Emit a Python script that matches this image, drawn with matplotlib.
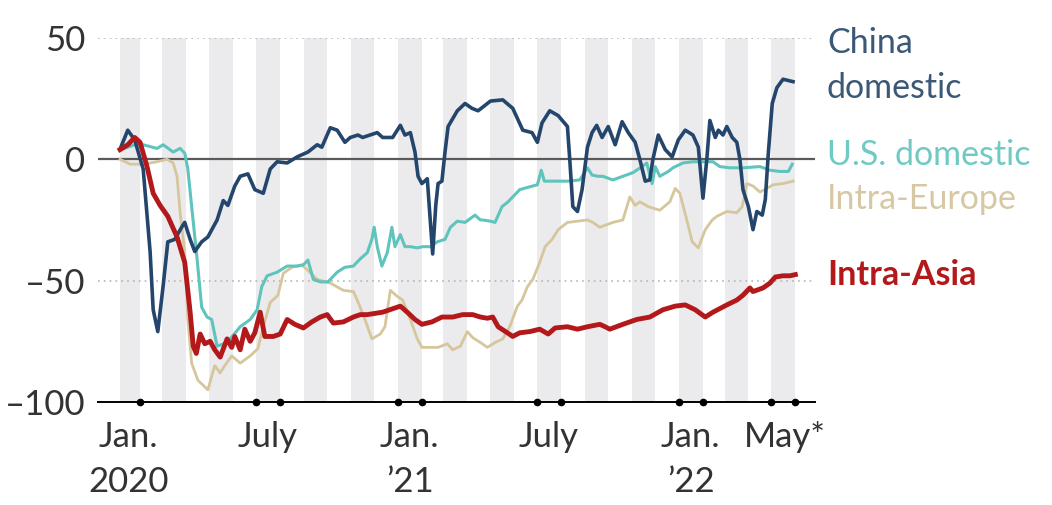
import numpy as np
import pandas as pd
import matplotlib
matplotlib.use('Agg')
import matplotlib.pyplot as plt
import matplotlib.transforms as mtransforms

plt.rcParams['font.family'] = ['Lato', 'DejaVu Sans']

START = pd.Timestamp('2020-01-01')

# seat capacity, % change vs 2019 -- x in days since 2020-01-01
china_days = [6, 15, 24, 35, 44, 48, 54, 61, 67, 76, 85, 89, 96, 102, 111, 119, 131, 139, 145, 154,
              161, 171, 180, 191, 200, 209, 222, 235, 249, 261, 267, 278, 287, 297, 304, 314, 320, 339, 346, 359,
              369, 375, 382, 388, 392, 397, 404, 406, 411, 415, 418, 423, 427, 431, 443, 453, 462, 470, 486, 502,
              515, 528, 540, 547, 553, 563, 574, 586, 589, 593, 599, 605, 612, 618, 624, 631, 639, 648, 657, 665,
              674, 680, 687, 693, 697, 704, 713, 722, 730, 739, 749, 756, 762, 767, 771, 778, 782, 788, 793, 800,
              806, 810, 814, 821, 827, 832, 839, 843, 847, 852, 858, 866, 879]
china_vals = [5, 12, 8, -4, -38, -62, -71, -52, -34, -33, -28, -26, -33, -38, -34, -32, -25, -17, -19, -11,
              -7, -6, -12.5, -14, -4, -1, -1.5, 1, 3, 6, 5, 13, 12, 7, 9, 10, 9, 11, 9, 9,
              14, 10, 11, 3, -7, -10, -8, -17, -39, -19, -10, -9, 3, 13.5, 20, 23, 21, 20, 24, 24.5,
              21, 12, 11, 7, 15, 20, 18, 13.5, 0, -19.5, -21.5, -12.5, 5, 11, 14, 9, 13.5, 6, 15.5, 11,
              7, 0, -9, -8.5, 0, 10, 4, 1, 8, 12, 10, 5, -16, 0, 16, 9, 12, 10, 13.5, 9,
              7, 0, -12.5, -19.5, -29, -21.5, -23, -16.5, 3, 23, 29.5, 33, 32]

us_days = [6, 24, 35, 53, 61, 74, 83, 89, 93, 98, 105, 111, 118, 124, 131, 140, 148, 161, 174, 183,
           189, 196, 209, 222, 235, 243, 249, 256, 265, 275, 287, 297, 308, 317, 326, 332, 335, 339, 345, 352,
           358, 362, 369, 375, 382, 391, 398, 408, 417, 427, 434, 443, 453, 466, 473, 476, 486, 492, 501, 509,
           515, 524, 535, 547, 552, 556, 567, 586, 602, 612, 618, 626, 632, 645, 658, 671, 683, 689, 696, 700,
           706, 717, 723, 736, 749, 762, 775, 784, 797, 814, 836, 849, 862, 873, 878]
us_vals = [4, 6, 6, 4.5, 6, 3, 4.5, 2.5, -4, -19.5, -41, -61, -65, -66, -77, -76, -74, -69, -66, -62,
           -52.5, -48, -46.5, -44, -44, -43.5, -41.5, -49.5, -50.5, -50.5, -46.5, -44.5, -44, -41, -38.5, -33, -28, -36, -44, -38.5,
           -28, -36, -31, -36, -36, -36.5, -36, -36, -34, -33, -28, -25.5, -26, -23, -25, -25, -25.5, -26, -19.5, -17.5,
           -15.5, -12.5, -11.5, -10.5, -4.5, -9, -9, -9, -8.5, -3.5, -6.5, -7, -7, -8.5, -7, -5.5, -3, -1.5, -10, -3,
           -7, -5, -3.5, -1.5, -1, -1, -1, -3, -3.5, -3.5, -3, -4.5, -5, -5, -2]

europe_days = [5, 18, 35, 53, 66, 74, 79, 83, 89, 93, 98, 106, 119, 128, 135, 141, 150, 161, 174, 184,
               191, 200, 210, 217, 228, 241, 248, 261, 278, 295, 308, 313, 323, 332, 343, 349, 356, 365, 372, 382,
               391, 397, 408, 418, 430, 437, 447, 456, 463, 473, 482, 492, 502, 511, 521, 527, 534, 541, 550, 557,
               566, 574, 586, 599, 612, 619, 628, 645, 658, 667, 674, 680, 691, 706, 719, 726, 732, 741, 748, 756,
               765, 774, 780, 793, 806, 813, 819, 827, 836, 845, 853, 866, 879]
europe_vals = [0, -2, -2, -1, 0, -1.5, -7, -22, -38.5, -66, -84, -91, -95, -85, -88, -85, -81, -84, -81, -78,
               -69, -59, -56, -47, -44.5, -43.5, -45.5, -49.5, -51, -54, -54.5, -58, -66, -74, -72, -69, -54, -56.5, -58, -66,
               -74, -77.5, -77.5, -77.5, -76, -78.5, -77, -71, -73.5, -75.5, -77.5, -75.5, -74, -69, -60.5, -58, -52.5, -49.5, -42.5, -36,
               -33, -29, -26, -25.5, -25, -26, -28, -26, -25, -15.5, -19, -17.5, -19.5, -21, -17.5, -12, -14, -25, -34, -36.5,
               -29, -25, -23.5, -21.5, -22, -19.5, -10, -11, -13.5, -12, -10.5, -10, -9]

asia_days = [5, 15, 24, 31, 40, 48, 57, 67, 79, 89, 96, 100, 104, 109, 115, 122, 128, 135, 144, 150,
             154, 161, 167, 174, 180, 187, 193, 204, 213, 222, 232, 243, 254, 265, 274, 282, 295, 308, 317, 326,
             346, 369, 378, 388, 397, 410, 423, 437, 450, 463, 473, 482, 489, 496, 508, 515, 524, 537, 550, 561,
             570, 586, 599, 612, 628, 635, 641, 658, 676, 693, 710, 726, 739, 752, 765, 775, 784, 793, 806, 814,
             823, 827, 840, 849, 856, 866, 875, 882]
asia_vals = [4, 6, 9, 7, -3, -14, -19, -23.5, -32, -42.5, -63, -77, -80, -72, -76, -75, -78.5, -81.5, -74, -77.5,
             -73, -78.5, -70, -75, -71.5, -63, -73, -73, -72, -66, -68, -69.5, -67, -65, -64, -67.5, -67, -65, -64, -64,
             -63, -60.5, -63, -66, -68, -67, -65, -65, -64, -64, -65, -65.5, -65, -69, -71.5, -73, -71.5, -71, -70, -72,
             -69.5, -69, -70, -69, -68, -69, -70, -68, -66, -65, -62, -60.5, -60, -62, -65, -63, -61.5, -60, -58, -56,
             -53, -54.5, -53, -51, -48.5, -48, -48, -47.5]

tick_dates = ['2020-01-17', '2020-07-16', '2021-01-16', '2021-07-16', '2022-01-16', '2022-05-18']
tick_labels = ['Jan.\n2020', 'July', 'Jan.\n\u201921', 'July', 'Jan.\n\u201922', 'May*']
dot_dates = ['2020-02-01', '2020-07-01', '2020-08-01', '2021-01-01', '2021-02-01', '2021-07-01',
             '2021-08-01', '2022-01-01', '2022-02-01', '2022-05-01', '2022-06-01']

C_CHINA = '#24466d'
C_US = '#5ec4bc'
C_EU = '#d6c69c'
C_ASIA = '#b3191b'
FS = 25


def to_dates(days):
    return START + pd.to_timedelta(days, unit='D')


fig = plt.figure(figsize=(10.52, 5.05), dpi=100)
ax = fig.add_axes([0.0932, 0.204, 0.6815, 0.7208])

all_days = china_days + us_days + europe_days + asia_days
first = to_dates([min(all_days)])[0]
last = to_dates([max(all_days)])[0]

# alternate month shading
for m in pd.date_range('2020-01-01', '2022-05-01', freq='MS'):
    if m.month % 2 == 1:
        nxt = m + pd.offsets.MonthBegin(1)
        ax.axvspan(max(m, first), min(nxt, last), color='#ebebed', lw=0, zorder=0)

ax.axhline(50, color='#b5b5b5', lw=1.2, ls=(0, (1, 2.5)), zorder=1)
ax.axhline(-50, color='#b5b5b5', lw=1.2, ls=(0, (1, 2.5)), zorder=1)
ax.axhline(0, color='#5a5a5a', lw=1.6, zorder=1)

ax.plot(to_dates(europe_days), europe_vals, color=C_EU, lw=2.0, zorder=2)
ax.plot(to_dates(us_days), us_vals, color=C_US, lw=2.2, zorder=3)
ax.plot(to_dates(china_days), china_vals, color=C_CHINA, lw=2.6, zorder=4)
ax.plot(to_dates(asia_days), asia_vals, color=C_ASIA, lw=3.5, zorder=5)

ax.plot(pd.to_datetime(dot_dates), [-100] * len(dot_dates), 'o', color='black', ms=4.5,
        clip_on=False, zorder=6)

ax.set_xlim(START - pd.Timedelta(days=23.6), START + pd.Timedelta(days=907.5))
ax.set_ylim(-100, 50)

for s in ['top', 'right', 'left']:
    ax.spines[s].set_visible(False)
ax.spines['bottom'].set_color('black')
ax.spines['bottom'].set_linewidth(1.4)

ax.set_yticks([50, 0, -50, -100])
ax.set_yticklabels(['50', '0', '\u201350', '\u2013100'])
ax.set_xticks(pd.to_datetime(tick_dates))
ax.set_xticklabels(tick_labels)
ax.tick_params(axis='y', length=0, pad=9, labelsize=FS, labelcolor='#333333')
ax.tick_params(axis='x', length=0, pad=13.5, labelsize=FS, labelcolor='#333333')
for lbl in ax.get_xticklabels():
    lbl.set_linespacing(1.5)

# series labels on the right
tr = mtransforms.blended_transform_factory(ax.transAxes, ax.transData)
lx = 1.0167
lab_fs = 24.5
ax.text(lx, 43.9, 'China', color='#3b5877', fontsize=lab_fs, transform=tr, va='baseline', clip_on=False)
ax.text(lx, 25.3, 'domestic', color='#3b5877', fontsize=lab_fs, transform=tr, va='baseline', clip_on=False)
ax.text(lx, -2.3, 'U.S. domestic', color='#6fcac3', fontsize=lab_fs, transform=tr, va='baseline', clip_on=False)
ax.text(lx, -20.4, 'Intra-Europe', color='#d6c8a2', fontsize=lab_fs, transform=tr, va='baseline', clip_on=False)
ax.text(lx, -52, 'Intra-Asia', color=C_ASIA, fontsize=lab_fs, fontweight='bold', transform=tr,
        va='baseline', clip_on=False)

fig.savefig('out.png', dpi=100)
